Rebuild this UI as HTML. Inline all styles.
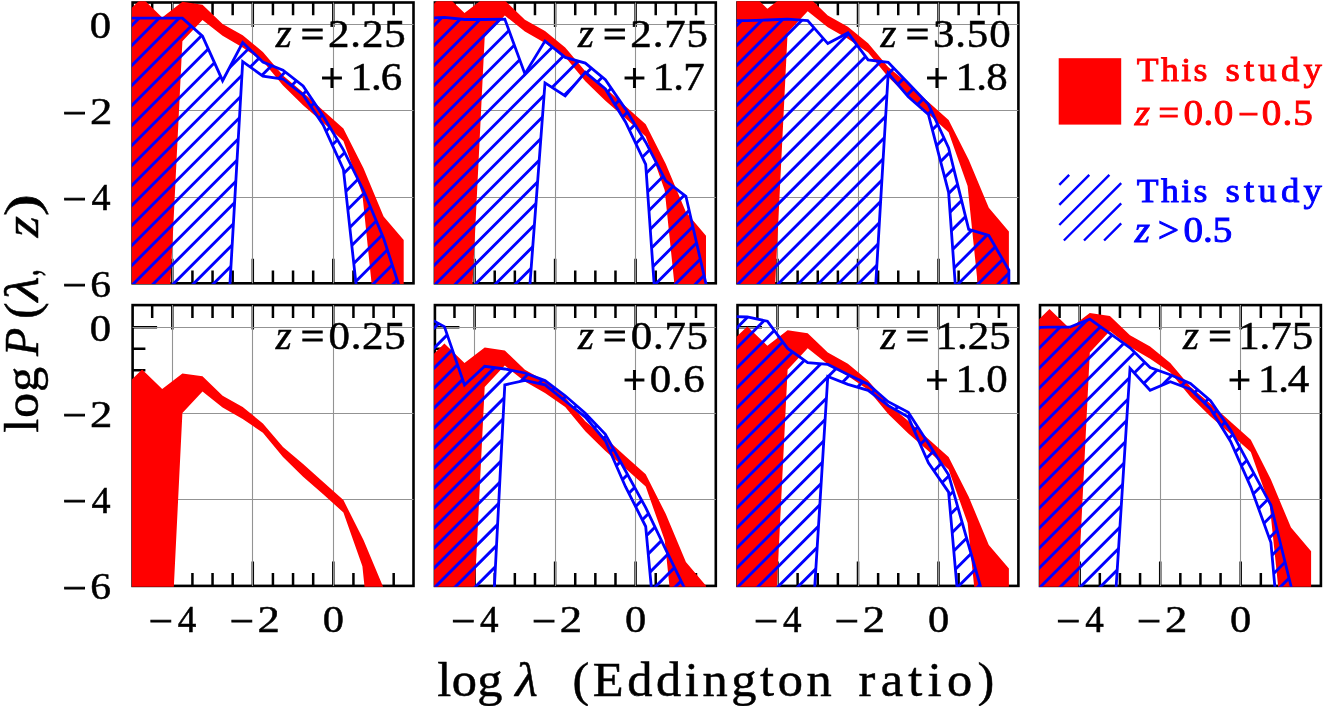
<!DOCTYPE html>
<html><head><meta charset="utf-8"><title>chart</title>
<style>html,body{margin:0;padding:0;background:#fff}svg{display:block;will-change:transform}text{font-family:"Liberation Serif",serif;}</style></head><body>
<svg width="1323" height="706" viewBox="0 0 1323 706">
<rect width="1323" height="706" fill="#fff"/>
<defs>
<clipPath id="c0"><rect x="131.80" y="303.80" width="283.00" height="282.90"/></clipPath>
<clipPath id="c1"><rect x="434.10" y="303.80" width="283.00" height="282.90"/></clipPath>
<clipPath id="c2"><rect x="736.70" y="303.80" width="283.00" height="282.90"/></clipPath>
<clipPath id="c3"><rect x="1039.20" y="303.80" width="283.00" height="282.90"/></clipPath>
<clipPath id="c4"><rect x="131.80" y="1.20" width="283.00" height="282.90"/></clipPath>
<clipPath id="c5"><rect x="434.10" y="1.20" width="283.00" height="282.90"/></clipPath>
<clipPath id="c6"><rect x="736.70" y="1.20" width="283.00" height="282.90"/></clipPath>
</defs>
<g id="p0">
<rect x="132.60" y="305.10" width="280.90" height="280.80" fill="none" stroke="#000" stroke-width="2.6"/>
<path d="M152.18 305.10v12.8M152.18 585.90v-12.8M172.30 305.10v24.5M172.30 585.90v-24.5M192.43 305.10v12.8M192.43 585.90v-12.8M212.55 305.10v12.8M212.55 585.90v-12.8M232.68 305.10v12.8M232.68 585.90v-12.8M252.80 305.10v24.5M252.80 585.90v-24.5M272.93 305.10v12.8M272.93 585.90v-12.8M293.05 305.10v12.8M293.05 585.90v-12.8M313.18 305.10v12.8M313.18 585.90v-12.8M333.30 305.10v24.5M333.30 585.90v-24.5M353.43 305.10v12.8M353.43 585.90v-12.8M373.55 305.10v12.8M373.55 585.90v-12.8M393.68 305.10v12.8M393.68 585.90v-12.8M132.60 564.25h12.8M132.60 542.70h12.8M132.60 521.15h12.8M132.60 499.60h24.5M132.60 478.05h12.8M132.60 456.50h12.8M132.60 434.95h12.8M132.60 413.40h24.5M132.60 391.85h12.8M132.60 370.30h12.8M132.60 348.75h12.8M132.60 327.20h24.5" stroke="#000" stroke-width="2.5" fill="none"/>
<path d="M172.5 305.10V585.90M132.60 499.5H413.50M252.5 305.10V585.90M132.60 413.5H413.50M333.5 305.10V585.90M132.60 327.5H413.50" stroke="#939393" stroke-width="1.1" fill="none"/>
<g clip-path="url(#c0)">
<polygon points="122.0,388.8 142.1,369.5 162.2,388.9 182.4,373.4 202.5,376.3 222.6,395.7 242.7,406.9 262.9,423.5 283.0,447.1 303.1,464.0 323.2,482.1 343.4,500.1 363.5,539.9 383.6,588.0 403.7,611.7 403.7,771.1 383.6,771.1 362.4,566.2 343.4,512.5 323.2,494.2 303.1,476.7 283.0,457.1 262.9,432.8 242.7,419.0 222.6,407.4 202.5,391.4 182.4,412.9 162.2,822.9 142.1,844.4 122.0,844.4" fill="#f00"/>
</g>
</g>
<g id="p1">
<rect x="434.90" y="305.10" width="280.90" height="280.80" fill="none" stroke="#000" stroke-width="2.6"/>
<path d="M454.48 305.10v12.8M454.48 585.90v-12.8M474.60 305.10v24.5M474.60 585.90v-24.5M494.73 305.10v12.8M494.73 585.90v-12.8M514.85 305.10v12.8M514.85 585.90v-12.8M534.98 305.10v12.8M534.98 585.90v-12.8M555.10 305.10v24.5M555.10 585.90v-24.5M575.23 305.10v12.8M575.23 585.90v-12.8M595.35 305.10v12.8M595.35 585.90v-12.8M615.48 305.10v12.8M615.48 585.90v-12.8M635.60 305.10v24.5M635.60 585.90v-24.5M655.73 305.10v12.8M655.73 585.90v-12.8M675.85 305.10v12.8M675.85 585.90v-12.8M695.98 305.10v12.8M695.98 585.90v-12.8M434.90 564.25h12.8M434.90 542.70h12.8M434.90 521.15h12.8M434.90 499.60h24.5M434.90 478.05h12.8M434.90 456.50h12.8M434.90 434.95h12.8M434.90 413.40h24.5M434.90 391.85h12.8M434.90 370.30h12.8M434.90 348.75h12.8M434.90 327.20h24.5" stroke="#000" stroke-width="2.5" fill="none"/>
<path d="M474.5 305.10V585.90M434.90 499.5H715.80M555.5 305.10V585.90M434.90 413.5H715.80M635.5 305.10V585.90M434.90 327.5H715.80" stroke="#939393" stroke-width="1.1" fill="none"/>
<g clip-path="url(#c1)">
<polygon points="424.3,363.0 444.4,343.6 464.5,363.1 484.7,347.5 504.8,350.4 524.9,369.8 545.0,381.0 565.2,397.6 585.3,421.2 605.4,438.1 625.5,456.2 645.7,474.3 665.8,514.0 685.9,562.1 706.0,585.8 706.0,745.3 685.9,745.3 664.7,540.3 645.7,486.6 625.5,468.4 605.4,450.9 585.3,431.2 565.2,406.9 545.0,393.1 524.9,381.5 504.8,365.6 484.7,387.0 464.5,797.0 444.4,818.5 424.3,818.5" fill="#f00"/>
<clipPath id="h1"><polygon points="424.3,315.8 444.4,326.6 464.5,385.0 484.7,366.3 504.8,369.0 524.9,373.0 545.0,380.6 565.2,395.8 585.3,413.2 605.4,434.3 625.5,470.8 645.7,507.6 665.8,549.6 685.9,591.0 706.0,640.0 706.0,900.0 685.9,900.0 665.8,744.0 645.7,526.5 625.5,486.7 605.4,440.8 585.3,417.1 565.2,401.0 545.0,384.8 524.9,380.4 504.8,384.9 484.7,775.0 464.5,775.0 444.4,775.0 424.3,775.0"/></clipPath>
<path d="M429.9 -7.8L720.8 -298.7M429.9 12.2L720.8 -278.7M429.9 32.2L720.8 -258.7M429.9 52.2L720.8 -238.7M429.9 72.2L720.8 -218.7M429.9 92.2L720.8 -198.7M429.9 112.2L720.8 -178.7M429.9 132.2L720.8 -158.7M429.9 152.2L720.8 -138.7M429.9 172.2L720.8 -118.7M429.9 192.2L720.8 -98.7M429.9 212.2L720.8 -78.7M429.9 232.2L720.8 -58.7M429.9 252.2L720.8 -38.7M429.9 272.2L720.8 -18.7M429.9 292.2L720.8 1.3M429.9 312.2L720.8 21.3M429.9 332.2L720.8 41.3M429.9 352.2L720.8 61.3M429.9 372.2L720.8 81.3M429.9 392.2L720.8 101.3M429.9 412.2L720.8 121.3M429.9 432.2L720.8 141.3M429.9 452.2L720.8 161.3M429.9 472.2L720.8 181.3M429.9 492.2L720.8 201.3M429.9 512.2L720.8 221.3M429.9 532.2L720.8 241.3M429.9 552.2L720.8 261.3M429.9 572.2L720.8 281.3M429.9 592.2L720.8 301.3M429.9 612.2L720.8 321.3M429.9 632.2L720.8 341.3M429.9 652.2L720.8 361.3M429.9 672.2L720.8 381.3M429.9 692.2L720.8 401.3M429.9 712.2L720.8 421.3M429.9 732.2L720.8 441.3M429.9 752.2L720.8 461.3M429.9 772.2L720.8 481.3M429.9 792.2L720.8 501.3M429.9 812.2L720.8 521.3M429.9 832.2L720.8 541.3M429.9 852.2L720.8 561.3M429.9 872.2L720.8 581.3M429.9 892.2L720.8 601.3M429.9 912.2L720.8 621.3M429.9 932.2L720.8 641.3M429.9 952.2L720.8 661.3M429.9 972.2L720.8 681.3M429.9 992.2L720.8 701.3M429.9 1012.2L720.8 721.3M429.9 1032.2L720.8 741.3M429.9 1052.2L720.8 761.3M429.9 1072.2L720.8 781.3M429.9 1092.2L720.8 801.3M429.9 1112.2L720.8 821.3M429.9 1132.2L720.8 841.3M429.9 1152.2L720.8 861.3M429.9 1172.2L720.8 881.3" stroke="#00f" stroke-width="2.9" fill="none" clip-path="url(#h1)"/>
<polygon points="424.3,315.8 444.4,326.6 464.5,385.0 484.7,366.3 504.8,369.0 524.9,373.0 545.0,380.6 565.2,395.8 585.3,413.2 605.4,434.3 625.5,470.8 645.7,507.6 665.8,549.6 685.9,591.0 706.0,640.0 706.0,900.0 685.9,900.0 665.8,744.0 645.7,526.5 625.5,486.7 605.4,440.8 585.3,417.1 565.2,401.0 545.0,384.8 524.9,380.4 504.8,384.9 484.7,775.0 464.5,775.0 444.4,775.0 424.3,775.0" fill="none" stroke="#00f" stroke-width="2.8" stroke-linejoin="miter"/>
</g>
</g>
<g id="p2">
<rect x="737.50" y="305.10" width="280.90" height="280.80" fill="none" stroke="#000" stroke-width="2.6"/>
<path d="M757.38 305.10v12.8M757.38 585.90v-12.8M777.50 305.10v24.5M777.50 585.90v-24.5M797.62 305.10v12.8M797.62 585.90v-12.8M817.75 305.10v12.8M817.75 585.90v-12.8M837.88 305.10v12.8M837.88 585.90v-12.8M858.00 305.10v24.5M858.00 585.90v-24.5M878.12 305.10v12.8M878.12 585.90v-12.8M898.25 305.10v12.8M898.25 585.90v-12.8M918.38 305.10v12.8M918.38 585.90v-12.8M938.50 305.10v24.5M938.50 585.90v-24.5M958.62 305.10v12.8M958.62 585.90v-12.8M978.75 305.10v12.8M978.75 585.90v-12.8M998.88 305.10v12.8M998.88 585.90v-12.8M737.50 564.25h12.8M737.50 542.70h12.8M737.50 521.15h12.8M737.50 499.60h24.5M737.50 478.05h12.8M737.50 456.50h12.8M737.50 434.95h12.8M737.50 413.40h24.5M737.50 391.85h12.8M737.50 370.30h12.8M737.50 348.75h12.8M737.50 327.20h24.5" stroke="#000" stroke-width="2.5" fill="none"/>
<path d="M777.5 305.10V585.90M737.50 499.5H1018.40M858.5 305.10V585.90M737.50 413.5H1018.40M938.5 305.10V585.90M737.50 327.5H1018.40" stroke="#939393" stroke-width="1.1" fill="none"/>
<g clip-path="url(#c2)">
<polygon points="727.2,345.7 747.3,326.4 767.4,345.8 787.6,330.3 807.7,333.2 827.8,352.6 847.9,363.8 868.1,380.4 888.2,404.0 908.3,420.9 928.4,439.0 948.6,457.0 968.7,496.8 988.8,544.9 1008.9,568.6 1008.9,728.0 988.8,728.0 967.6,523.1 948.6,469.4 928.4,451.1 908.3,433.6 888.2,414.0 868.1,389.7 847.9,375.9 827.8,364.3 807.7,348.3 787.6,369.8 767.4,779.8 747.3,801.3 727.2,801.3" fill="#f00"/>
<clipPath id="h2"><polygon points="727.2,316.4 747.3,317.0 767.4,321.2 787.6,348.4 807.7,362.7 827.8,364.4 847.9,374.4 868.1,384.3 888.2,401.7 908.3,412.2 928.4,443.5 948.6,474.8 968.7,545.5 988.8,615.0 1008.9,680.0 1008.9,900.0 988.8,900.0 968.7,720.0 948.6,492.1 928.4,462.7 908.3,417.1 888.2,405.6 868.1,390.3 847.9,384.3 827.8,376.5 807.7,700.0 787.6,700.0 767.4,700.0 747.3,700.0 727.2,700.0"/></clipPath>
<path d="M732.5 -7.8L1023.4 -298.7M732.5 12.2L1023.4 -278.7M732.5 32.2L1023.4 -258.7M732.5 52.2L1023.4 -238.7M732.5 72.2L1023.4 -218.7M732.5 92.2L1023.4 -198.7M732.5 112.2L1023.4 -178.7M732.5 132.2L1023.4 -158.7M732.5 152.2L1023.4 -138.7M732.5 172.2L1023.4 -118.7M732.5 192.2L1023.4 -98.7M732.5 212.2L1023.4 -78.7M732.5 232.2L1023.4 -58.7M732.5 252.2L1023.4 -38.7M732.5 272.2L1023.4 -18.7M732.5 292.2L1023.4 1.3M732.5 312.2L1023.4 21.3M732.5 332.2L1023.4 41.3M732.5 352.2L1023.4 61.3M732.5 372.2L1023.4 81.3M732.5 392.2L1023.4 101.3M732.5 412.2L1023.4 121.3M732.5 432.2L1023.4 141.3M732.5 452.2L1023.4 161.3M732.5 472.2L1023.4 181.3M732.5 492.2L1023.4 201.3M732.5 512.2L1023.4 221.3M732.5 532.2L1023.4 241.3M732.5 552.2L1023.4 261.3M732.5 572.2L1023.4 281.3M732.5 592.2L1023.4 301.3M732.5 612.2L1023.4 321.3M732.5 632.2L1023.4 341.3M732.5 652.2L1023.4 361.3M732.5 672.2L1023.4 381.3M732.5 692.2L1023.4 401.3M732.5 712.2L1023.4 421.3M732.5 732.2L1023.4 441.3M732.5 752.2L1023.4 461.3M732.5 772.2L1023.4 481.3M732.5 792.2L1023.4 501.3M732.5 812.2L1023.4 521.3M732.5 832.2L1023.4 541.3M732.5 852.2L1023.4 561.3M732.5 872.2L1023.4 581.3M732.5 892.2L1023.4 601.3M732.5 912.2L1023.4 621.3M732.5 932.2L1023.4 641.3M732.5 952.2L1023.4 661.3M732.5 972.2L1023.4 681.3M732.5 992.2L1023.4 701.3M732.5 1012.2L1023.4 721.3M732.5 1032.2L1023.4 741.3M732.5 1052.2L1023.4 761.3M732.5 1072.2L1023.4 781.3M732.5 1092.2L1023.4 801.3M732.5 1112.2L1023.4 821.3M732.5 1132.2L1023.4 841.3M732.5 1152.2L1023.4 861.3M732.5 1172.2L1023.4 881.3" stroke="#00f" stroke-width="2.9" fill="none" clip-path="url(#h2)"/>
<polygon points="727.2,316.4 747.3,317.0 767.4,321.2 787.6,348.4 807.7,362.7 827.8,364.4 847.9,374.4 868.1,384.3 888.2,401.7 908.3,412.2 928.4,443.5 948.6,474.8 968.7,545.5 988.8,615.0 1008.9,680.0 1008.9,900.0 988.8,900.0 968.7,720.0 948.6,492.1 928.4,462.7 908.3,417.1 888.2,405.6 868.1,390.3 847.9,384.3 827.8,376.5 807.7,700.0 787.6,700.0 767.4,700.0 747.3,700.0 727.2,700.0" fill="none" stroke="#00f" stroke-width="2.8" stroke-linejoin="miter"/>
</g>
</g>
<g id="p3">
<rect x="1040.00" y="305.10" width="280.90" height="280.80" fill="none" stroke="#000" stroke-width="2.6"/>
<path d="M1059.58 305.10v12.8M1059.58 585.90v-12.8M1079.70 305.10v24.5M1079.70 585.90v-24.5M1099.83 305.10v12.8M1099.83 585.90v-12.8M1119.95 305.10v12.8M1119.95 585.90v-12.8M1140.08 305.10v12.8M1140.08 585.90v-12.8M1160.20 305.10v24.5M1160.20 585.90v-24.5M1180.33 305.10v12.8M1180.33 585.90v-12.8M1200.45 305.10v12.8M1200.45 585.90v-12.8M1220.58 305.10v12.8M1220.58 585.90v-12.8M1240.70 305.10v24.5M1240.70 585.90v-24.5M1260.83 305.10v12.8M1260.83 585.90v-12.8M1280.95 305.10v12.8M1280.95 585.90v-12.8M1301.08 305.10v12.8M1301.08 585.90v-12.8M1040.00 564.25h12.8M1040.00 542.70h12.8M1040.00 521.15h12.8M1040.00 499.60h24.5M1040.00 478.05h12.8M1040.00 456.50h12.8M1040.00 434.95h12.8M1040.00 413.40h24.5M1040.00 391.85h12.8M1040.00 370.30h12.8M1040.00 348.75h12.8M1040.00 327.20h24.5" stroke="#000" stroke-width="2.5" fill="none"/>
<path d="M1079.5 305.10V585.90M1040.00 499.5H1320.90M1160.5 305.10V585.90M1040.00 413.5H1320.90M1240.5 305.10V585.90M1040.00 327.5H1320.90" stroke="#939393" stroke-width="1.1" fill="none"/>
<g clip-path="url(#c3)">
<polygon points="1029.4,328.5 1049.5,309.1 1069.6,328.6 1089.8,313.1 1109.9,316.0 1130.0,335.3 1150.1,346.6 1170.3,363.1 1190.4,386.8 1210.5,403.7 1230.6,421.8 1250.8,439.8 1270.9,479.6 1291.0,527.6 1311.1,551.3 1311.1,710.8 1291.0,710.8 1269.8,505.8 1250.8,452.1 1230.6,433.9 1210.5,416.4 1190.4,396.8 1170.3,372.5 1150.1,358.7 1130.0,347.1 1109.9,331.1 1089.8,352.5 1069.6,762.5 1049.5,784.1 1029.4,784.1" fill="#f00"/>
<clipPath id="h3"><polygon points="1029.4,327.6 1049.5,327.2 1069.6,327.2 1089.8,319.1 1109.9,333.4 1130.0,347.8 1150.1,367.6 1170.3,374.8 1190.4,383.5 1210.5,400.7 1230.6,430.1 1250.8,467.6 1270.9,505.1 1291.0,586.0 1311.1,660.0 1311.1,900.0 1291.0,767.0 1270.9,542.6 1250.8,487.1 1230.6,441.5 1210.5,408.9 1190.4,389.3 1170.3,381.8 1150.1,390.3 1130.0,368.4 1109.9,685.0 1089.8,685.0 1069.6,685.0 1049.5,685.0 1029.4,685.0"/></clipPath>
<path d="M1035.0 -7.8L1325.9 -298.7M1035.0 12.2L1325.9 -278.7M1035.0 32.2L1325.9 -258.7M1035.0 52.2L1325.9 -238.7M1035.0 72.2L1325.9 -218.7M1035.0 92.2L1325.9 -198.7M1035.0 112.2L1325.9 -178.7M1035.0 132.2L1325.9 -158.7M1035.0 152.2L1325.9 -138.7M1035.0 172.2L1325.9 -118.7M1035.0 192.2L1325.9 -98.7M1035.0 212.2L1325.9 -78.7M1035.0 232.2L1325.9 -58.7M1035.0 252.2L1325.9 -38.7M1035.0 272.2L1325.9 -18.7M1035.0 292.2L1325.9 1.3M1035.0 312.2L1325.9 21.3M1035.0 332.2L1325.9 41.3M1035.0 352.2L1325.9 61.3M1035.0 372.2L1325.9 81.3M1035.0 392.2L1325.9 101.3M1035.0 412.2L1325.9 121.3M1035.0 432.2L1325.9 141.3M1035.0 452.2L1325.9 161.3M1035.0 472.2L1325.9 181.3M1035.0 492.2L1325.9 201.3M1035.0 512.2L1325.9 221.3M1035.0 532.2L1325.9 241.3M1035.0 552.2L1325.9 261.3M1035.0 572.2L1325.9 281.3M1035.0 592.2L1325.9 301.3M1035.0 612.2L1325.9 321.3M1035.0 632.2L1325.9 341.3M1035.0 652.2L1325.9 361.3M1035.0 672.2L1325.9 381.3M1035.0 692.2L1325.9 401.3M1035.0 712.2L1325.9 421.3M1035.0 732.2L1325.9 441.3M1035.0 752.2L1325.9 461.3M1035.0 772.2L1325.9 481.3M1035.0 792.2L1325.9 501.3M1035.0 812.2L1325.9 521.3M1035.0 832.2L1325.9 541.3M1035.0 852.2L1325.9 561.3M1035.0 872.2L1325.9 581.3M1035.0 892.2L1325.9 601.3M1035.0 912.2L1325.9 621.3M1035.0 932.2L1325.9 641.3M1035.0 952.2L1325.9 661.3M1035.0 972.2L1325.9 681.3M1035.0 992.2L1325.9 701.3M1035.0 1012.2L1325.9 721.3M1035.0 1032.2L1325.9 741.3M1035.0 1052.2L1325.9 761.3M1035.0 1072.2L1325.9 781.3M1035.0 1092.2L1325.9 801.3M1035.0 1112.2L1325.9 821.3M1035.0 1132.2L1325.9 841.3M1035.0 1152.2L1325.9 861.3M1035.0 1172.2L1325.9 881.3" stroke="#00f" stroke-width="2.9" fill="none" clip-path="url(#h3)"/>
<polygon points="1029.4,327.6 1049.5,327.2 1069.6,327.2 1089.8,319.1 1109.9,333.4 1130.0,347.8 1150.1,367.6 1170.3,374.8 1190.4,383.5 1210.5,400.7 1230.6,430.1 1250.8,467.6 1270.9,505.1 1291.0,586.0 1311.1,660.0 1311.1,900.0 1291.0,767.0 1270.9,542.6 1250.8,487.1 1230.6,441.5 1210.5,408.9 1190.4,389.3 1170.3,381.8 1150.1,390.3 1130.0,368.4 1109.9,685.0 1089.8,685.0 1069.6,685.0 1049.5,685.0 1029.4,685.0" fill="none" stroke="#00f" stroke-width="2.8" stroke-linejoin="miter"/>
</g>
</g>
<g id="p4">
<rect x="132.60" y="2.50" width="280.90" height="280.80" fill="none" stroke="#000" stroke-width="2.6"/>
<path d="M152.18 2.50v12.8M152.18 283.30v-12.8M172.30 2.50v24.5M172.30 283.30v-24.5M192.43 2.50v12.8M192.43 283.30v-12.8M212.55 2.50v12.8M212.55 283.30v-12.8M232.68 2.50v12.8M232.68 283.30v-12.8M252.80 2.50v24.5M252.80 283.30v-24.5M272.93 2.50v12.8M272.93 283.30v-12.8M293.05 2.50v12.8M293.05 283.30v-12.8M313.18 2.50v12.8M313.18 283.30v-12.8M333.30 2.50v24.5M333.30 283.30v-24.5M353.43 2.50v12.8M353.43 283.30v-12.8M373.55 2.50v12.8M373.55 283.30v-12.8M393.68 2.50v12.8M393.68 283.30v-12.8M132.60 261.65h12.8M132.60 240.10h12.8M132.60 218.55h12.8M132.60 197.00h24.5M132.60 175.45h12.8M132.60 153.90h12.8M132.60 132.35h12.8M132.60 110.80h24.5M132.60 89.25h12.8M132.60 67.70h12.8M132.60 46.15h12.8M132.60 24.60h24.5" stroke="#000" stroke-width="2.5" fill="none"/>
<path d="M172.5 2.50V283.30M132.60 197.5H413.50M252.5 2.50V283.30M132.60 110.5H413.50M333.5 2.50V283.30M132.60 24.5H413.50" stroke="#939393" stroke-width="1.1" fill="none"/>
<g clip-path="url(#c4)">
<polygon points="122.0,17.3 142.1,-2.1 162.2,17.4 182.4,1.8 202.5,4.7 222.6,24.1 242.7,35.3 262.9,51.9 283.0,75.5 303.1,92.4 323.2,110.5 343.4,128.6 363.5,168.3 383.6,216.4 403.7,240.1 403.7,399.6 383.6,399.6 362.4,194.6 343.4,140.9 323.2,122.7 303.1,105.2 283.0,85.5 262.9,61.2 242.7,47.4 222.6,35.8 202.5,19.9 182.4,41.3 162.2,451.3 142.1,472.8 122.0,472.8" fill="#f00"/>
<clipPath id="h4"><polygon points="122.0,18.1 142.1,18.1 162.2,18.1 182.4,18.1 202.5,36.1 222.6,80.7 242.7,42.5 262.9,62.0 283.0,70.1 303.1,86.0 323.2,116.1 343.4,149.8 363.5,190.5 383.6,238.3 403.7,300.0 403.7,600.0 383.6,600.0 363.5,351.6 343.4,169.3 323.2,125.0 303.1,94.9 283.0,79.0 262.9,76.1 242.7,61.6 222.6,412.0 202.5,412.0 182.4,412.0 162.2,412.0 142.1,412.0 122.0,412.0"/></clipPath>
<path d="M127.6 -310.4L418.5 -601.3M127.6 -290.4L418.5 -581.3M127.6 -270.4L418.5 -561.3M127.6 -250.4L418.5 -541.3M127.6 -230.4L418.5 -521.3M127.6 -210.4L418.5 -501.3M127.6 -190.4L418.5 -481.3M127.6 -170.4L418.5 -461.3M127.6 -150.4L418.5 -441.3M127.6 -130.4L418.5 -421.3M127.6 -110.4L418.5 -401.3M127.6 -90.4L418.5 -381.3M127.6 -70.4L418.5 -361.3M127.6 -50.4L418.5 -341.3M127.6 -30.4L418.5 -321.3M127.6 -10.4L418.5 -301.3M127.6 9.6L418.5 -281.3M127.6 29.6L418.5 -261.3M127.6 49.6L418.5 -241.3M127.6 69.6L418.5 -221.3M127.6 89.6L418.5 -201.3M127.6 109.6L418.5 -181.3M127.6 129.6L418.5 -161.3M127.6 149.6L418.5 -141.3M127.6 169.6L418.5 -121.3M127.6 189.6L418.5 -101.3M127.6 209.6L418.5 -81.3M127.6 229.6L418.5 -61.3M127.6 249.6L418.5 -41.3M127.6 269.6L418.5 -21.3M127.6 289.6L418.5 -1.3M127.6 309.6L418.5 18.7M127.6 329.6L418.5 38.7M127.6 349.6L418.5 58.7M127.6 369.6L418.5 78.7M127.6 389.6L418.5 98.7M127.6 409.6L418.5 118.7M127.6 429.6L418.5 138.7M127.6 449.6L418.5 158.7M127.6 469.6L418.5 178.7M127.6 489.6L418.5 198.7M127.6 509.6L418.5 218.7M127.6 529.6L418.5 238.7M127.6 549.6L418.5 258.7M127.6 569.6L418.5 278.7M127.6 589.6L418.5 298.7M127.6 609.6L418.5 318.7M127.6 629.6L418.5 338.7M127.6 649.6L418.5 358.7M127.6 669.6L418.5 378.7M127.6 689.6L418.5 398.7M127.6 709.6L418.5 418.7M127.6 729.6L418.5 438.7M127.6 749.6L418.5 458.7M127.6 769.6L418.5 478.7M127.6 789.6L418.5 498.7M127.6 809.6L418.5 518.7M127.6 829.6L418.5 538.7M127.6 849.6L418.5 558.7M127.6 869.6L418.5 578.7" stroke="#00f" stroke-width="2.9" fill="none" clip-path="url(#h4)"/>
<polygon points="122.0,18.1 142.1,18.1 162.2,18.1 182.4,18.1 202.5,36.1 222.6,80.7 242.7,42.5 262.9,62.0 283.0,70.1 303.1,86.0 323.2,116.1 343.4,149.8 363.5,190.5 383.6,238.3 403.7,300.0 403.7,600.0 383.6,600.0 363.5,351.6 343.4,169.3 323.2,125.0 303.1,94.9 283.0,79.0 262.9,76.1 242.7,61.6 222.6,412.0 202.5,412.0 182.4,412.0 162.2,412.0 142.1,412.0 122.0,412.0" fill="none" stroke="#00f" stroke-width="2.8" stroke-linejoin="miter"/>
</g>
</g>
<g id="p5">
<rect x="434.90" y="2.50" width="280.90" height="280.80" fill="none" stroke="#000" stroke-width="2.6"/>
<path d="M454.48 2.50v12.8M454.48 283.30v-12.8M474.60 2.50v24.5M474.60 283.30v-24.5M494.73 2.50v12.8M494.73 283.30v-12.8M514.85 2.50v12.8M514.85 283.30v-12.8M534.98 2.50v12.8M534.98 283.30v-12.8M555.10 2.50v24.5M555.10 283.30v-24.5M575.23 2.50v12.8M575.23 283.30v-12.8M595.35 2.50v12.8M595.35 283.30v-12.8M615.48 2.50v12.8M615.48 283.30v-12.8M635.60 2.50v24.5M635.60 283.30v-24.5M655.73 2.50v12.8M655.73 283.30v-12.8M675.85 2.50v12.8M675.85 283.30v-12.8M695.98 2.50v12.8M695.98 283.30v-12.8M434.90 261.65h12.8M434.90 240.10h12.8M434.90 218.55h12.8M434.90 197.00h24.5M434.90 175.45h12.8M434.90 153.90h12.8M434.90 132.35h12.8M434.90 110.80h24.5M434.90 89.25h12.8M434.90 67.70h12.8M434.90 46.15h12.8M434.90 24.60h24.5" stroke="#000" stroke-width="2.5" fill="none"/>
<path d="M474.5 2.50V283.30M434.90 197.5H715.80M555.5 2.50V283.30M434.90 110.5H715.80M635.5 2.50V283.30M434.90 24.5H715.80" stroke="#939393" stroke-width="1.1" fill="none"/>
<g clip-path="url(#c5)">
<polygon points="424.3,13.0 444.4,-6.4 464.5,13.0 484.7,-2.5 504.8,0.4 524.9,19.8 545.0,31.0 565.2,47.6 585.3,71.2 605.4,88.1 625.5,106.2 645.7,124.2 665.8,164.0 685.9,212.1 706.0,235.8 706.0,395.3 685.9,395.3 664.7,190.3 645.7,136.6 625.5,118.3 605.4,100.8 585.3,81.2 565.2,56.9 545.0,43.1 524.9,31.5 504.8,15.5 484.7,37.0 464.5,447.0 444.4,468.5 424.3,468.5" fill="#f00"/>
<clipPath id="h5"><polygon points="424.3,18.5 444.4,17.4 464.5,19.5 484.7,19.5 504.8,19.1 524.9,73.9 545.0,41.0 565.2,57.4 585.3,63.1 605.4,79.7 625.5,109.1 645.7,142.2 665.8,180.9 685.9,196.3 706.0,284.0 706.0,600.0 685.9,600.0 665.8,450.0 645.7,164.3 625.5,122.0 605.4,88.9 585.3,72.3 565.2,96.0 545.0,82.9 524.9,352.0 504.8,352.0 484.7,352.0 464.5,352.0 444.4,352.0 424.3,352.0"/></clipPath>
<path d="M429.9 -310.4L720.8 -601.3M429.9 -290.4L720.8 -581.3M429.9 -270.4L720.8 -561.3M429.9 -250.4L720.8 -541.3M429.9 -230.4L720.8 -521.3M429.9 -210.4L720.8 -501.3M429.9 -190.4L720.8 -481.3M429.9 -170.4L720.8 -461.3M429.9 -150.4L720.8 -441.3M429.9 -130.4L720.8 -421.3M429.9 -110.4L720.8 -401.3M429.9 -90.4L720.8 -381.3M429.9 -70.4L720.8 -361.3M429.9 -50.4L720.8 -341.3M429.9 -30.4L720.8 -321.3M429.9 -10.4L720.8 -301.3M429.9 9.6L720.8 -281.3M429.9 29.6L720.8 -261.3M429.9 49.6L720.8 -241.3M429.9 69.6L720.8 -221.3M429.9 89.6L720.8 -201.3M429.9 109.6L720.8 -181.3M429.9 129.6L720.8 -161.3M429.9 149.6L720.8 -141.3M429.9 169.6L720.8 -121.3M429.9 189.6L720.8 -101.3M429.9 209.6L720.8 -81.3M429.9 229.6L720.8 -61.3M429.9 249.6L720.8 -41.3M429.9 269.6L720.8 -21.3M429.9 289.6L720.8 -1.3M429.9 309.6L720.8 18.7M429.9 329.6L720.8 38.7M429.9 349.6L720.8 58.7M429.9 369.6L720.8 78.7M429.9 389.6L720.8 98.7M429.9 409.6L720.8 118.7M429.9 429.6L720.8 138.7M429.9 449.6L720.8 158.7M429.9 469.6L720.8 178.7M429.9 489.6L720.8 198.7M429.9 509.6L720.8 218.7M429.9 529.6L720.8 238.7M429.9 549.6L720.8 258.7M429.9 569.6L720.8 278.7M429.9 589.6L720.8 298.7M429.9 609.6L720.8 318.7M429.9 629.6L720.8 338.7M429.9 649.6L720.8 358.7M429.9 669.6L720.8 378.7M429.9 689.6L720.8 398.7M429.9 709.6L720.8 418.7M429.9 729.6L720.8 438.7M429.9 749.6L720.8 458.7M429.9 769.6L720.8 478.7M429.9 789.6L720.8 498.7M429.9 809.6L720.8 518.7M429.9 829.6L720.8 538.7M429.9 849.6L720.8 558.7M429.9 869.6L720.8 578.7" stroke="#00f" stroke-width="2.9" fill="none" clip-path="url(#h5)"/>
<polygon points="424.3,18.5 444.4,17.4 464.5,19.5 484.7,19.5 504.8,19.1 524.9,73.9 545.0,41.0 565.2,57.4 585.3,63.1 605.4,79.7 625.5,109.1 645.7,142.2 665.8,180.9 685.9,196.3 706.0,284.0 706.0,600.0 685.9,600.0 665.8,450.0 645.7,164.3 625.5,122.0 605.4,88.9 585.3,72.3 565.2,96.0 545.0,82.9 524.9,352.0 504.8,352.0 484.7,352.0 464.5,352.0 444.4,352.0 424.3,352.0" fill="none" stroke="#00f" stroke-width="2.8" stroke-linejoin="miter"/>
</g>
</g>
<g id="p6">
<rect x="737.50" y="2.50" width="280.90" height="280.80" fill="none" stroke="#000" stroke-width="2.6"/>
<path d="M757.38 2.50v12.8M757.38 283.30v-12.8M777.50 2.50v24.5M777.50 283.30v-24.5M797.62 2.50v12.8M797.62 283.30v-12.8M817.75 2.50v12.8M817.75 283.30v-12.8M837.88 2.50v12.8M837.88 283.30v-12.8M858.00 2.50v24.5M858.00 283.30v-24.5M878.12 2.50v12.8M878.12 283.30v-12.8M898.25 2.50v12.8M898.25 283.30v-12.8M918.38 2.50v12.8M918.38 283.30v-12.8M938.50 2.50v24.5M938.50 283.30v-24.5M958.62 2.50v12.8M958.62 283.30v-12.8M978.75 2.50v12.8M978.75 283.30v-12.8M998.88 2.50v12.8M998.88 283.30v-12.8M737.50 261.65h12.8M737.50 240.10h12.8M737.50 218.55h12.8M737.50 197.00h24.5M737.50 175.45h12.8M737.50 153.90h12.8M737.50 132.35h12.8M737.50 110.80h24.5M737.50 89.25h12.8M737.50 67.70h12.8M737.50 46.15h12.8M737.50 24.60h24.5" stroke="#000" stroke-width="2.5" fill="none"/>
<path d="M777.5 2.50V283.30M737.50 197.5H1018.40M858.5 2.50V283.30M737.50 110.5H1018.40M938.5 2.50V283.30M737.50 24.5H1018.40" stroke="#939393" stroke-width="1.1" fill="none"/>
<g clip-path="url(#c6)">
<polygon points="727.2,8.7 747.3,-10.7 767.4,8.7 787.6,-6.8 807.7,-3.9 827.8,15.5 847.9,26.7 868.1,43.3 888.2,66.9 908.3,83.8 928.4,101.9 948.6,119.9 968.7,159.7 988.8,207.8 1008.9,231.5 1008.9,391.0 988.8,391.0 967.6,186.0 948.6,132.3 928.4,114.0 908.3,96.5 888.2,76.9 868.1,52.6 847.9,38.8 827.8,27.2 807.7,11.2 787.6,32.7 767.4,442.7 747.3,464.2 727.2,464.2" fill="#f00"/>
<clipPath id="h6"><polygon points="727.2,20.8 747.3,20.6 767.4,20.0 787.6,19.1 807.7,20.6 827.8,43.6 847.9,32.9 868.1,59.9 888.2,62.3 908.3,83.2 928.4,104.4 948.6,148.0 968.7,229.4 988.8,235.5 1008.9,270.2 1008.9,600.0 988.8,600.0 968.7,470.0 948.6,192.3 928.4,114.4 908.3,96.7 888.2,73.3 868.1,414.0 847.9,414.0 827.8,414.0 807.7,414.0 787.6,414.0 767.4,414.0 747.3,414.0 727.2,414.0"/></clipPath>
<path d="M732.5 -310.4L1023.4 -601.3M732.5 -290.4L1023.4 -581.3M732.5 -270.4L1023.4 -561.3M732.5 -250.4L1023.4 -541.3M732.5 -230.4L1023.4 -521.3M732.5 -210.4L1023.4 -501.3M732.5 -190.4L1023.4 -481.3M732.5 -170.4L1023.4 -461.3M732.5 -150.4L1023.4 -441.3M732.5 -130.4L1023.4 -421.3M732.5 -110.4L1023.4 -401.3M732.5 -90.4L1023.4 -381.3M732.5 -70.4L1023.4 -361.3M732.5 -50.4L1023.4 -341.3M732.5 -30.4L1023.4 -321.3M732.5 -10.4L1023.4 -301.3M732.5 9.6L1023.4 -281.3M732.5 29.6L1023.4 -261.3M732.5 49.6L1023.4 -241.3M732.5 69.6L1023.4 -221.3M732.5 89.6L1023.4 -201.3M732.5 109.6L1023.4 -181.3M732.5 129.6L1023.4 -161.3M732.5 149.6L1023.4 -141.3M732.5 169.6L1023.4 -121.3M732.5 189.6L1023.4 -101.3M732.5 209.6L1023.4 -81.3M732.5 229.6L1023.4 -61.3M732.5 249.6L1023.4 -41.3M732.5 269.6L1023.4 -21.3M732.5 289.6L1023.4 -1.3M732.5 309.6L1023.4 18.7M732.5 329.6L1023.4 38.7M732.5 349.6L1023.4 58.7M732.5 369.6L1023.4 78.7M732.5 389.6L1023.4 98.7M732.5 409.6L1023.4 118.7M732.5 429.6L1023.4 138.7M732.5 449.6L1023.4 158.7M732.5 469.6L1023.4 178.7M732.5 489.6L1023.4 198.7M732.5 509.6L1023.4 218.7M732.5 529.6L1023.4 238.7M732.5 549.6L1023.4 258.7M732.5 569.6L1023.4 278.7M732.5 589.6L1023.4 298.7M732.5 609.6L1023.4 318.7M732.5 629.6L1023.4 338.7M732.5 649.6L1023.4 358.7M732.5 669.6L1023.4 378.7M732.5 689.6L1023.4 398.7M732.5 709.6L1023.4 418.7M732.5 729.6L1023.4 438.7M732.5 749.6L1023.4 458.7M732.5 769.6L1023.4 478.7M732.5 789.6L1023.4 498.7M732.5 809.6L1023.4 518.7M732.5 829.6L1023.4 538.7M732.5 849.6L1023.4 558.7M732.5 869.6L1023.4 578.7" stroke="#00f" stroke-width="2.9" fill="none" clip-path="url(#h6)"/>
<polygon points="727.2,20.8 747.3,20.6 767.4,20.0 787.6,19.1 807.7,20.6 827.8,43.6 847.9,32.9 868.1,59.9 888.2,62.3 908.3,83.2 928.4,104.4 948.6,148.0 968.7,229.4 988.8,235.5 1008.9,270.2 1008.9,600.0 988.8,600.0 968.7,470.0 948.6,192.3 928.4,114.4 908.3,96.7 888.2,73.3 868.1,414.0 847.9,414.0 827.8,414.0 807.7,414.0 787.6,414.0 767.4,414.0 747.3,414.0 727.2,414.0" fill="none" stroke="#00f" stroke-width="2.8" stroke-linejoin="miter"/>
</g>
</g>
<g id="labels">
<text transform="translate(89.77,37.90) scale(1.1098,1.0)" font-size="38.5" fill="#000" stroke="#000" stroke-width="0.5">0</text>
<text transform="translate(62.44,125.60) scale(1.1093,1.0)" font-size="38.5" fill="#000" stroke="#000" stroke-width="0.9">−</text>
<text transform="translate(90.06,124.10) scale(1.1593,1.0)" font-size="38.5" fill="#000" stroke="#000" stroke-width="0.5">2</text>
<text transform="translate(62.44,211.80) scale(1.1093,1.0)" font-size="38.5" fill="#000" stroke="#000" stroke-width="0.9">−</text>
<text transform="translate(91.47,210.30) scale(0.9903,1.0)" font-size="38.5" fill="#000" stroke="#000" stroke-width="0.5">4</text>
<text transform="translate(62.44,298.00) scale(1.1093,1.0)" font-size="38.5" fill="#000" stroke="#000" stroke-width="0.9">−</text>
<text transform="translate(90.19,296.50) scale(1.0803,1.0)" font-size="38.5" fill="#000" stroke="#000" stroke-width="0.5">6</text>
<text transform="translate(89.77,340.50) scale(1.1098,1.0)" font-size="38.5" fill="#000" stroke="#000" stroke-width="0.5">0</text>
<text transform="translate(62.44,428.20) scale(1.1093,1.0)" font-size="38.5" fill="#000" stroke="#000" stroke-width="0.9">−</text>
<text transform="translate(90.06,426.70) scale(1.1593,1.0)" font-size="38.5" fill="#000" stroke="#000" stroke-width="0.5">2</text>
<text transform="translate(62.44,514.40) scale(1.1093,1.0)" font-size="38.5" fill="#000" stroke="#000" stroke-width="0.9">−</text>
<text transform="translate(91.47,512.90) scale(0.9903,1.0)" font-size="38.5" fill="#000" stroke="#000" stroke-width="0.5">4</text>
<text transform="translate(62.44,600.60) scale(1.1093,1.0)" font-size="38.5" fill="#000" stroke="#000" stroke-width="0.9">−</text>
<text transform="translate(90.19,599.10) scale(1.0803,1.0)" font-size="38.5" fill="#000" stroke="#000" stroke-width="0.5">6</text>
<text transform="translate(148.84,633.70) scale(1.1093,1.0)" font-size="38.5" fill="#000" stroke="#000" stroke-width="0.9">−</text>
<text transform="translate(177.78,632.20) scale(0.9632,1.0)" font-size="38.5" fill="#000" stroke="#000" stroke-width="0.5">4</text>
<text transform="translate(229.64,633.70) scale(1.1093,1.0)" font-size="38.5" fill="#000" stroke="#000" stroke-width="0.9">−</text>
<text transform="translate(257.56,632.20) scale(1.1593,1.0)" font-size="38.5" fill="#000" stroke="#000" stroke-width="0.5">2</text>
<text transform="translate(322.68,632.20) scale(1.1039,1.0)" font-size="38.5" fill="#000" stroke="#000" stroke-width="0.5">0</text>
<text transform="translate(451.14,633.70) scale(1.1093,1.0)" font-size="38.5" fill="#000" stroke="#000" stroke-width="0.9">−</text>
<text transform="translate(480.08,632.20) scale(0.9632,1.0)" font-size="38.5" fill="#000" stroke="#000" stroke-width="0.5">4</text>
<text transform="translate(531.94,633.70) scale(1.1093,1.0)" font-size="38.5" fill="#000" stroke="#000" stroke-width="0.9">−</text>
<text transform="translate(559.86,632.20) scale(1.1593,1.0)" font-size="38.5" fill="#000" stroke="#000" stroke-width="0.5">2</text>
<text transform="translate(624.98,632.20) scale(1.1039,1.0)" font-size="38.5" fill="#000" stroke="#000" stroke-width="0.5">0</text>
<text transform="translate(754.04,633.70) scale(1.1093,1.0)" font-size="38.5" fill="#000" stroke="#000" stroke-width="0.9">−</text>
<text transform="translate(782.98,632.20) scale(0.9632,1.0)" font-size="38.5" fill="#000" stroke="#000" stroke-width="0.5">4</text>
<text transform="translate(834.84,633.70) scale(1.1093,1.0)" font-size="38.5" fill="#000" stroke="#000" stroke-width="0.9">−</text>
<text transform="translate(862.76,632.20) scale(1.1593,1.0)" font-size="38.5" fill="#000" stroke="#000" stroke-width="0.5">2</text>
<text transform="translate(927.88,632.20) scale(1.1039,1.0)" font-size="38.5" fill="#000" stroke="#000" stroke-width="0.5">0</text>
<text transform="translate(1056.24,633.70) scale(1.1093,1.0)" font-size="38.5" fill="#000" stroke="#000" stroke-width="0.9">−</text>
<text transform="translate(1085.18,632.20) scale(0.9632,1.0)" font-size="38.5" fill="#000" stroke="#000" stroke-width="0.5">4</text>
<text transform="translate(1137.04,633.70) scale(1.1093,1.0)" font-size="38.5" fill="#000" stroke="#000" stroke-width="0.9">−</text>
<text transform="translate(1164.96,632.20) scale(1.1593,1.0)" font-size="38.5" fill="#000" stroke="#000" stroke-width="0.5">2</text>
<text transform="translate(1230.08,632.20) scale(1.1039,1.0)" font-size="38.5" fill="#000" stroke="#000" stroke-width="0.5">0</text>
<text transform="translate(328.46,349.40) scale(1.1000,1.0)" font-size="39" fill="#000" stroke="#000" stroke-width="0.5" letter-spacing="0.666">0.25</text>
<text transform="translate(300.78,350.40) scale(1.0684,1.0)" font-size="39" fill="#000" stroke="#000" stroke-width="0.9">=</text>
<text transform="translate(275.67,349.40) scale(1.0513,1.0)" font-size="39" fill="#000" stroke="#000" stroke-width="0.5" font-style="italic">z</text>
<text transform="translate(630.76,349.40) scale(1.1000,1.0)" font-size="39" fill="#000" stroke="#000" stroke-width="0.5" letter-spacing="0.666">0.75</text>
<text transform="translate(603.08,350.40) scale(1.0684,1.0)" font-size="39" fill="#000" stroke="#000" stroke-width="0.9">=</text>
<text transform="translate(577.97,349.40) scale(1.0513,1.0)" font-size="39" fill="#000" stroke="#000" stroke-width="0.5" font-style="italic">z</text>
<text transform="translate(649.86,392.40) scale(1.1000,1.0)" font-size="39" fill="#000" stroke="#000" stroke-width="0.5" letter-spacing="0.509">0.6</text>
<text transform="translate(622.92,393.40) scale(1.0417,1.0)" font-size="39" fill="#000" stroke="#000" stroke-width="0.9">+</text>
<text transform="translate(935.72,349.40) scale(1.1000,1.0)" font-size="39" fill="#000" stroke="#000" stroke-width="0.5" letter-spacing="-0.047">1.25</text>
<text transform="translate(905.68,350.40) scale(1.0684,1.0)" font-size="39" fill="#000" stroke="#000" stroke-width="0.9">=</text>
<text transform="translate(880.57,349.40) scale(1.0513,1.0)" font-size="39" fill="#000" stroke="#000" stroke-width="0.5" font-style="italic">z</text>
<text transform="translate(955.42,392.40) scale(1.1000,1.0)" font-size="39" fill="#000" stroke="#000" stroke-width="0.5" letter-spacing="-0.639">1.0</text>
<text transform="translate(925.52,393.40) scale(1.0417,1.0)" font-size="39" fill="#000" stroke="#000" stroke-width="0.9">+</text>
<text transform="translate(1238.22,349.40) scale(1.1000,1.0)" font-size="39" fill="#000" stroke="#000" stroke-width="0.5" letter-spacing="-0.047">1.75</text>
<text transform="translate(1208.18,350.40) scale(1.0684,1.0)" font-size="39" fill="#000" stroke="#000" stroke-width="0.9">=</text>
<text transform="translate(1183.07,349.40) scale(1.0513,1.0)" font-size="39" fill="#000" stroke="#000" stroke-width="0.5" font-style="italic">z</text>
<text transform="translate(1257.92,392.40) scale(1.1000,1.0)" font-size="39" fill="#000" stroke="#000" stroke-width="0.5" letter-spacing="-1.029">1.4</text>
<text transform="translate(1228.03,393.40) scale(1.0417,1.0)" font-size="39" fill="#000" stroke="#000" stroke-width="0.9">+</text>
<text transform="translate(328.03,46.80) scale(1.1000,1.0)" font-size="39" fill="#000" stroke="#000" stroke-width="0.5" letter-spacing="0.796">2.25</text>
<text transform="translate(300.78,47.80) scale(1.0684,1.0)" font-size="39" fill="#000" stroke="#000" stroke-width="0.9">=</text>
<text transform="translate(275.67,46.80) scale(1.0513,1.0)" font-size="39" fill="#000" stroke="#000" stroke-width="0.5" font-style="italic">z</text>
<text transform="translate(350.52,89.80) scale(1.1000,1.0)" font-size="39" fill="#000" stroke="#000" stroke-width="0.5" letter-spacing="-0.834">1.6</text>
<text transform="translate(320.62,90.80) scale(1.0417,1.0)" font-size="39" fill="#000" stroke="#000" stroke-width="0.9">+</text>
<text transform="translate(630.33,46.80) scale(1.1000,1.0)" font-size="39" fill="#000" stroke="#000" stroke-width="0.5" letter-spacing="0.796">2.75</text>
<text transform="translate(603.08,47.80) scale(1.0684,1.0)" font-size="39" fill="#000" stroke="#000" stroke-width="0.9">=</text>
<text transform="translate(577.97,46.80) scale(1.0513,1.0)" font-size="39" fill="#000" stroke="#000" stroke-width="0.5" font-style="italic">z</text>
<text transform="translate(652.82,89.80) scale(1.1000,1.0)" font-size="39" fill="#000" stroke="#000" stroke-width="0.5" letter-spacing="-0.834">1.7</text>
<text transform="translate(622.92,90.80) scale(1.0417,1.0)" font-size="39" fill="#000" stroke="#000" stroke-width="0.9">+</text>
<text transform="translate(932.93,46.80) scale(1.1000,1.0)" font-size="39" fill="#000" stroke="#000" stroke-width="0.5" letter-spacing="0.796">3.50</text>
<text transform="translate(905.68,47.80) scale(1.0684,1.0)" font-size="39" fill="#000" stroke="#000" stroke-width="0.9">=</text>
<text transform="translate(880.57,46.80) scale(1.0513,1.0)" font-size="39" fill="#000" stroke="#000" stroke-width="0.5" font-style="italic">z</text>
<text transform="translate(955.42,89.80) scale(1.1000,1.0)" font-size="39" fill="#000" stroke="#000" stroke-width="0.5" letter-spacing="-0.639">1.8</text>
<text transform="translate(925.52,90.80) scale(1.0417,1.0)" font-size="39" fill="#000" stroke="#000" stroke-width="0.9">+</text>
</g>
<rect x="1058.7" y="58.2" width="62.5" height="66.4" fill="#f00"/>
<path d="M1059.3 184.8L1069.2 174.9M1059.3 204.9L1089.3 174.9M1059.3 225.0L1109.4 174.9M1063.9 240.5L1121.2 183.2M1084.0 240.5L1121.2 203.3M1104.1 240.5L1121.2 223.4" stroke="#00f" stroke-width="2.4" fill="none"/>
<g id="legend">
<text transform="translate(1136.79,81.30) scale(1.0500,1.0)" font-size="34.0" fill="#f00" stroke="#f00" stroke-width="0.9" letter-spacing="2.263">This</text>
<text transform="translate(1225.38,81.30) scale(1.0800,1.0)" font-size="34.0" fill="#f00" stroke="#f00" stroke-width="0.9" letter-spacing="3.934">study</text>
<text transform="translate(1134.83,124.60) scale(1.0986,1.0)" font-size="35.5" fill="#f00" stroke="#f00" stroke-width="0.9" font-style="italic">z</text>
<text transform="translate(1136.79,202.30) scale(1.0500,1.0)" font-size="34.0" fill="#00f" stroke="#00f" stroke-width="0.9" letter-spacing="2.263">This</text>
<text transform="translate(1225.38,202.30) scale(1.0800,1.0)" font-size="34.0" fill="#00f" stroke="#00f" stroke-width="0.9" letter-spacing="3.934">study</text>
<text transform="translate(1134.83,241.50) scale(1.0986,1.0)" font-size="35.5" fill="#00f" stroke="#00f" stroke-width="0.9" font-style="italic">z</text>
<text transform="translate(1158.50,125.40) scale(1.0211,1.0)" font-size="35.5" fill="#f00" stroke="#f00" stroke-width="1.1">=</text>
<text transform="translate(1183.38,124.60) scale(1.1000,1.0)" font-size="35.5" fill="#f00" stroke="#f00" stroke-width="0.9" letter-spacing="0.514">0.0</text>
<text transform="translate(1237.89,126.00) scale(1.0270,1.0)" font-size="35.5" fill="#f00" stroke="#f00" stroke-width="1.1">−</text>
<text transform="translate(1261.78,124.60) scale(1.1000,1.0)" font-size="35.5" fill="#f00" stroke="#f00" stroke-width="0.9" letter-spacing="1.014">0.5</text>
<text transform="translate(1158.10,242.30) scale(1.0429,1.0)" font-size="35.5" fill="#00f" stroke="#00f" stroke-width="1.1">&gt;</text>
<text transform="translate(1183.38,241.50) scale(1.1000,1.0)" font-size="35.5" fill="#00f" stroke="#00f" stroke-width="0.9" letter-spacing="0.059">0.5</text>
</g>
<g id="titles">
<text transform="translate(437.34,695.60) scale(1.0500,1.0)" font-size="48" fill="#000" stroke="#000" stroke-width="0.5" letter-spacing="0.290">log</text>
<text transform="translate(515.21,695.60) scale(1.0843,1.0)" font-size="48" fill="#000" stroke="#000" stroke-width="0.5" font-style="italic">λ</text>
<text transform="translate(572.43,695.60) scale(1.0500,1.0)" font-size="48" fill="#000" stroke="#000" stroke-width="0.5" letter-spacing="3.444">(Eddington</text>
<text transform="translate(858.54,695.60) scale(1.0500,1.0)" font-size="48" fill="#000" stroke="#000" stroke-width="0.5" letter-spacing="5.073">ratio)</text>
<text transform="translate(38.30,432.86) rotate(-90) scale(1.0500,1.0)" font-size="48" fill="#000" stroke="#000" stroke-width="0.5" letter-spacing="0.814">log</text>
<text transform="translate(38.30,356.09) rotate(-90) scale(0.9583,1.0)" font-size="48" fill="#000" stroke="#000" stroke-width="0.5" font-style="italic">P</text>
<text transform="translate(38.30,318.95) rotate(-90) scale(1.0417,1.0)" font-size="48" fill="#000" stroke="#000" stroke-width="0.5">(</text>
<text transform="translate(38.30,301.25) rotate(-90) scale(1.1837,1.0)" font-size="48" fill="#000" stroke="#000" stroke-width="0.5" font-style="italic">λ</text>
<text transform="translate(38.30,276.31) rotate(-90) scale(0.5990,1.0)" font-size="48" fill="#000" stroke="#000" stroke-width="0.5">,</text>
<text transform="translate(38.30,237.36) rotate(-90) scale(1.1302,1.0)" font-size="48" fill="#000" stroke="#000" stroke-width="0.5" font-style="italic">z</text>
<text transform="translate(38.30,216.26) rotate(-90) scale(1.3942,1.0)" font-size="48" fill="#000" stroke="#000" stroke-width="0.5">)</text>
</g>
</svg></body></html>
